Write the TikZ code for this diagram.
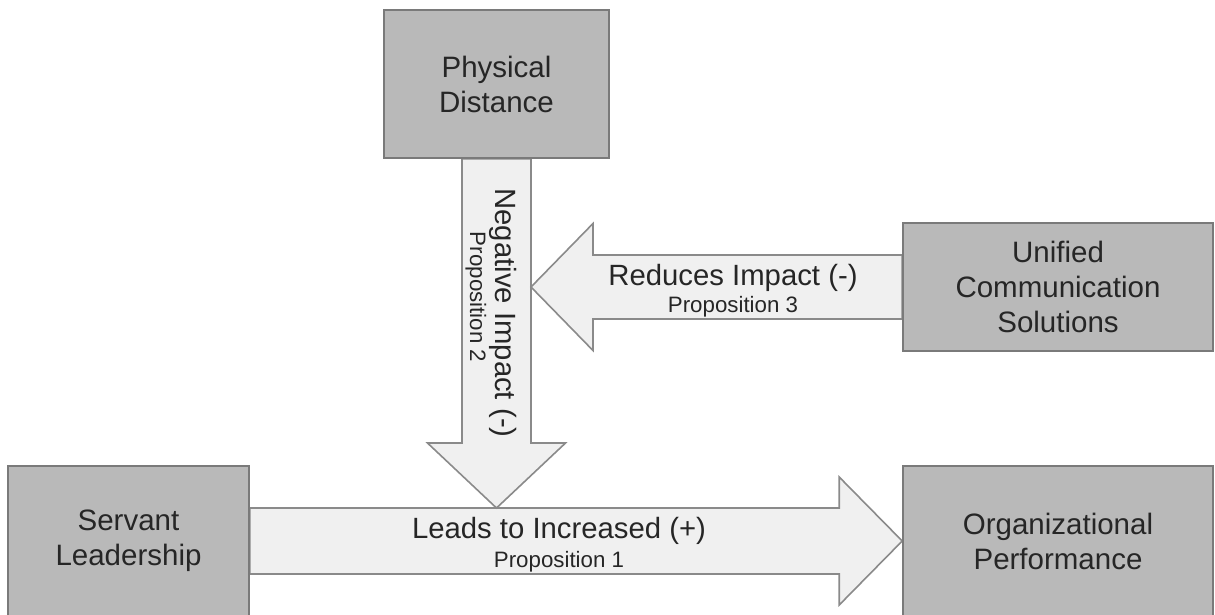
\documentclass[tikz,border=0pt]{standalone}
\usepackage{fontspec}
\setmainfont{Liberation Sans}
\usetikzlibrary{calc}
\definecolor{boxfill}{HTML}{B9B9B9}
\definecolor{boxline}{HTML}{7A7A7A}
\definecolor{arrowfill}{HTML}{F0F0F0}
\definecolor{arrowline}{HTML}{8A8A8A}
\definecolor{ink}{HTML}{262626}
\begin{document}
\begin{tikzpicture}[x=1pt, y=-1pt,
  concept/.style={draw=boxline, fill=boxfill, line width=1.6pt, inner sep=0pt,
    align=center, text=ink, font=\fontsize{29.5}{35}\selectfont},
  arrowbody/.style={draw=arrowline, fill=arrowfill, line width=1.6pt, line join=miter},
  mainlbl/.style={text=ink, inner sep=0pt, anchor=base, font=\fontsize{29.3}{34}\selectfont},
  sublbl/.style={text=ink, inner sep=0pt, anchor=base, font=\fontsize{22.3}{26}\selectfont}]
\useasboundingbox (0,0) rectangle (1215,614);

% concept boxes
\node[concept, minimum width=225pt, minimum height=148pt] (pd) at (496.5,84) {Physical\\Distance};
\node[concept, minimum width=310pt, minimum height=128pt] (ucs) at (1058,287) {Unified\\Communication\\Solutions};
\node[concept, minimum width=241pt, minimum height=150pt] (sl) at (128.5,541) {Servant\\Leadership};
\node[concept, minimum width=310pt, minimum height=150pt] (op) at (1058,541) {Organizational\\Performance};

% arrow tips meet the neighbouring arrow bodies
\coordinate (vtip) at ($(pd.south |- sl.east)+(0,-33)$);
\coordinate (htip) at ($(ucs.west -| pd.south)+(34.5,0)$);

% Proposition 1: servant leadership -> organizational performance
\draw[arrowbody] ($(sl.east)+(0,-33)$) -- ($(op.west)+(-63,-33)$) -- ($(op.west)+(-63,-64)$)
  -- (op.west) -- ($(op.west)+(-63,64)$) -- ($(op.west)+(-63,33)$) -- ($(sl.east)+(0,33)$) -- cycle;

% Proposition 2: physical distance -> bottom arrow
\draw[arrowbody] ($(pd.south)+(-34.5,0)$) -- ($(vtip)+(-34.5,-65)$) -- ($(vtip)+(-69,-65)$)
  -- (vtip) -- ($(vtip)+(69,-65)$) -- ($(vtip)+(34.5,-65)$) -- ($(pd.south)+(34.5,0)$) -- cycle;

% Proposition 3: unified communication -> vertical arrow
\draw[arrowbody] ($(ucs.west)+(0,-32)$) -- ($(htip)+(62,-32)$) -- ($(htip)+(62,-63.5)$)
  -- (htip) -- ($(htip)+(62,63.5)$) -- ($(htip)+(62,32)$) -- ($(ucs.west)+(0,32)$) -- cycle;

% redraw the boxes on top of the arrow ends
\node[concept, minimum width=225pt, minimum height=148pt] at (pd) {Physical\\Distance};
\node[concept, minimum width=310pt, minimum height=128pt] at (ucs) {Unified\\Communication\\Solutions};
\node[concept, minimum width=241pt, minimum height=150pt] at (sl) {Servant\\Leadership};
\node[concept, minimum width=310pt, minimum height=150pt] at (op) {Organizational\\Performance};

% arrow labels
\node[mainlbl] (l1) at (559,538) {Leads to Increased (+)};
\node[sublbl] (p1) at (559,567) {Proposition 1};
\node[mainlbl, rotate=-90] (l2) at (495,313) {Negative Impact (-)};
\node[sublbl, rotate=-90] (p2) at (470,297) {Proposition 2};
\node[mainlbl] (l3) at (733,285) {Reduces Impact (-)};
\node[sublbl] (p3) at (733,312) {Proposition 3};
\end{tikzpicture}
\end{document}
